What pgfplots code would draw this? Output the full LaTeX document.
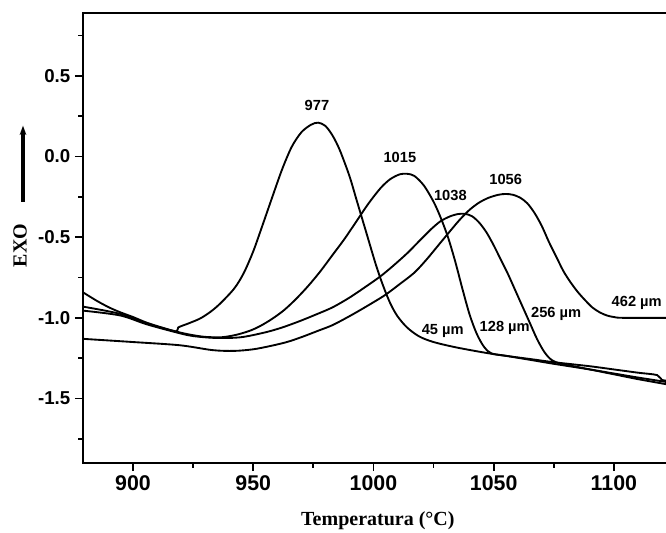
\documentclass[border=0pt]{standalone}
\usepackage{fontspec}
\setmainfont{Liberation Serif}
\setsansfont{Liberation Sans}
\usepackage{pgfplots}
\pgfplotsset{compat=1.18}
\usetikzlibrary{arrows.meta}
\begin{document}
\begin{tikzpicture}
\begin{axis}[
  at={(0,0)}, anchor=south west,
  scale only axis, width=452.25pt, height=337.5pt,
  xmin=879.2, xmax=1130, ymin=-1.90, ymax=0.89,
  axis line style={line width=1.5pt},
  tick pos=left, tick align=outside,
  xtick={900,950,1000,1050,1100}, minor xtick={925,975,1025,1075,1125},
  xticklabels={900,950,1000,1050,1100},
  ytick={-1.5,-1,-0.5,0,0.5}, minor ytick={-1.75,-1.25,-0.75,-0.25,0.25,0.75},
  yticklabels={-1.5,-1.0,-0.5,0.0,0.5},
  major tick length=6pt, minor tick length=3.5pt,
  every tick/.style={black, line width=1.3pt},
  xticklabel style={font=\fontsize{16}{18}\selectfont\sffamily\bfseries},
  yticklabel style={font=\fontsize{14}{16}\selectfont\sffamily\bfseries},
  xlabel={Temperatura (°C)},
  xlabel style={font=\fontsize{15}{17}\selectfont\bfseries, at={(axis description cs:0.489,-0.129)}, anchor=center},
  ylabel={EXO},
  ylabel style={font=\fontsize{15}{17}\selectfont\bfseries, at={(axis description cs:-0.1045,0.483)}, anchor=center},
  cycle list={{black, solid, mark=none}},
  no markers,
  every axis plot/.append style={black, line width=1.4pt, smooth, tension=0.5},
]
% 45 um (peak 977)
\addplot coordinates {(879,-0.84) (885,-0.895) (890,-0.935) (894.6,-0.965) (900,-0.995) (905.7,-1.03) (912,-1.06) (918,-1.085) (918.8,-1.06) (923,-1.035) (927.8,-1.005) (932,-0.965) (936,-0.915) (942,-0.82) (946,-0.724) (950,-0.588) (954,-0.42) (958,-0.248) (962,-0.08) (966,0.06) (970,0.15) (974,0.197) (977,0.21) (980,0.19) (983,0.13) (986,0.04) (990,-0.12) (993,-0.27) (997,-0.47) (1001,-0.67) (1004,-0.80) (1007,-0.91) (1010,-0.99) (1014,-1.06) (1019,-1.115) (1025,-1.15) (1035,-1.185) (1050,-1.225) (1065,-1.255) (1075,-1.275) (1090,-1.30) (1100,-1.32) (1110,-1.34) (1118,-1.355) (1120,-1.385) (1125,-1.395)};
% 128 um (peak 1015)
\addplot coordinates {(879,-0.93) (894.6,-0.975) (905.7,-1.035) (918,-1.085) (924,-1.105) (930,-1.118) (937,-1.12) (943,-1.105) (948.6,-1.08) (953,-1.05) (958,-1.005) (963,-0.95) (968,-0.88) (973,-0.80) (978,-0.71) (983,-0.61) (988,-0.51) (993,-0.40) (998,-0.29) (1003,-0.195) (1007,-0.14) (1011,-0.11) (1014,-0.107) (1017,-0.12) (1021,-0.18) (1025,-0.28) (1028,-0.38) (1031,-0.50) (1034,-0.65) (1037,-0.82) (1040,-0.98) (1043,-1.10) (1046,-1.18) (1049,-1.22) (1055,-1.235) (1065,-1.26) (1075,-1.285) (1090,-1.32) (1100,-1.345) (1110,-1.37) (1125,-1.405)};
% 256 um (peak 1038)
\addplot coordinates {(879,-0.955) (894.6,-0.985) (905.7,-1.04) (918,-1.09) (925,-1.113) (935,-1.125) (945,-1.12) (955,-1.09) (962,-1.06) (969.4,-1.02) (976,-0.98) (983,-0.935) (990,-0.875) (996,-0.815) (1002.7,-0.745) (1008,-0.68) (1014,-0.60) (1019.3,-0.52) (1024,-0.45) (1028,-0.40) (1032,-0.37) (1035,-0.357) (1038,-0.355) (1041,-0.37) (1044,-0.41) (1047,-0.47) (1050,-0.55) (1053,-0.64) (1056,-0.73) (1059,-0.83) (1062,-0.93) (1065,-1.03) (1068,-1.13) (1071,-1.21) (1074,-1.26) (1078,-1.285) (1085,-1.305) (1100,-1.35) (1110,-1.38) (1125,-1.42)};
% 462 um (peak 1056)
\addplot coordinates {(879,-1.13) (900,-1.15) (919.5,-1.17) (933,-1.20) (942,-1.205) (950,-1.195) (957,-1.175) (964,-1.15) (970,-1.12) (977,-1.08) (983,-1.045) (990,-0.99) (997,-0.93) (1004.7,-0.86) (1011,-0.79) (1017,-0.72) (1022,-0.64) (1027,-0.55) (1032,-0.46) (1036,-0.39) (1040,-0.33) (1044,-0.285) (1048,-0.255) (1052,-0.237) (1055,-0.232) (1058,-0.237) (1061,-0.255) (1064,-0.29) (1067,-0.35) (1070,-0.43) (1073,-0.53) (1076,-0.62) (1079,-0.71) (1082,-0.78) (1085,-0.84) (1088,-0.89) (1091,-0.935) (1094,-0.965) (1097,-0.985) (1100,-0.995) (1104,-1.0) (1125,-1.0)};
\begin{scope}[every node/.style={font=\fontsize{11}{13}\selectfont\sffamily\bfseries, inner sep=1pt}]
\node at (axis cs:976.5,0.316) {977};
\node at (axis cs:1011,-0.006) {1015};
\node at (axis cs:1032,-0.24) {1038};
\node at (axis cs:1055,-0.14) {1056};
\node at (axis cs:1028.8,-1.08) {45 µm};
\node at (axis cs:1054.6,-1.06) {128 µm};
\node at (axis cs:1076,-0.975) {256 µm};
\node at (axis cs:1109.5,-0.91) {462 µm};
\end{scope}
\end{axis}
\draw[line width=3pt, -{Stealth[length=7pt,width=5pt]}] (-45pt,195.75pt) -- (-45pt,253pt);
\pgfresetboundingbox
\useasboundingbox (-62.25pt,-51.75pt) rectangle (437.25pt,347.25pt);
\end{tikzpicture}
\end{document}
